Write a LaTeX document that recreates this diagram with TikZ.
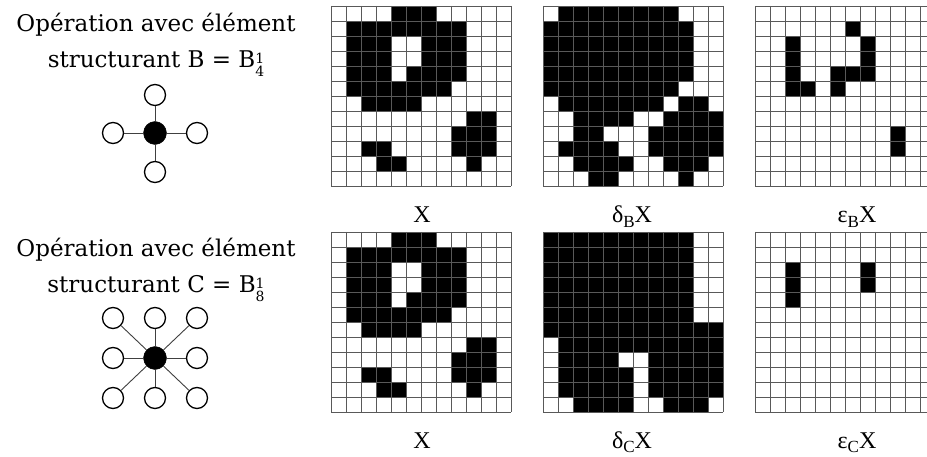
\documentclass[tikz,border=0pt]{standalone}
\usepackage{fontspec}
\setmainfont{DejaVu Serif}
\newfontfamily\lblfont{Liberation Serif}
\newcommand\supsub[2]{\makebox[0pt][l]{\raisebox{4pt}{\fontsize{14}{14}\selectfont #1}}\raisebox{-9pt}{\fontsize{14}{14}\selectfont #2}}
\newcommand\lsub[1]{\raisebox{-4.5pt}{\fontsize{17}{17}\selectfont #1}}
\newcommand\drawgrid[3]{%
  \foreach \r/\cols in {#3} {\foreach \c in \cols {\fill[cellfill] (#1+\c*15, #2+\r*15) rectangle ++(15,15);}}
  \foreach \i in {0,...,12} {%
    \draw[gridline] (#1+\i*15,#2) -- (#1+\i*15,#2+180);
    \draw[gridline] (#1,#2+\i*15) -- (#1+180,#2+\i*15);}%
}
\begin{document}
\begin{tikzpicture}[x=1pt,y=-1pt,
  cellfill/.style={fill=black},
  gridline/.style={draw=black!65, line width=0.8pt},
  elem/.style={circle, draw=black, line width=1.3pt, minimum size=21pt, inner sep=0pt, fill=white},
  elemc/.style={circle, draw=black, fill=black, minimum size=23pt, inner sep=0pt},
  link/.style={draw=black!75, line width=0.9pt},
  lbl/.style={font=\lblfont\fontsize{24}{24}\selectfont, anchor=base},
  titletext/.style={font=\fontsize{23}{23}\selectfont, anchor=base}]
\useasboundingbox (0,0) rectangle (927,457);
\fill[white] (0,0) rectangle (927,457);

% ---------- top row ----------
\node[titletext] (t1a) at (156,32) {Opération avec élément};
\node[titletext] (t1b) at (156,68) {structurant B = B\supsub{1}{4}};

\node[elemc] (b0) at (155,133) {};
\node[elem] (bn) at (155,95) {};
\node[elem] (bs) at (155,172) {};
\node[elem] (bw) at (113,133) {};
\node[elem] (be) at (197,133) {};
\foreach \n in {bn,bs,bw,be} {\draw[link] (b0) -- (\n);}

\drawgrid{331}{6}{0/{4,5,6},1/{1,2,3,4,5,6,7,8},2/{1,2,3,6,7,8},3/{1,2,3,6,7,8},4/{1,2,3,5,6,7,8},5/{1,2,3,4,5,6,7},6/{2,3,4,5},7/{9,10},8/{8,9,10},9/{2,3,8,9,10},10/{3,4,9}}
\drawgrid{543}{6}{0/{1,2,3,4,5,6,7,8},1/{0,1,2,3,4,5,6,7,8,9},2/{0,1,2,3,4,5,6,7,8,9},3/{0,1,2,3,4,5,6,7,8,9},4/{0,1,2,3,4,5,6,7,8,9},5/{0,1,2,3,4,5,6,7,8},6/{1,2,3,4,5,6,7,9,10},7/{2,3,4,5,8,9,10,11},8/{2,3,7,8,9,10,11},9/{1,2,3,4,7,8,9,10,11},10/{2,3,4,5,8,9,10},11/{3,4,9}}
\drawgrid{755}{6}{1/{6},2/{2,7},3/{2,7},4/{2,5,6,7},5/{2,3,5},8/{9},9/{9}}

\node[lbl] (l1) at (422,223) {X};
\node[lbl] (l2) at (632,223) {δ\lsub{B}X};
\node[lbl] (l3) at (857,223) {ε\lsub{B}X};

% ---------- bottom row ----------
\node[titletext] (t2a) at (156,257) {Opération avec élément};
\node[titletext] (t2b) at (156,293) {structurant C = B\supsub{1}{8}};

\node[elemc] (c0) at (155,358) {};
\node[elem] (cnw) at (113,318) {};
\node[elem] (cn) at (155,318) {};
\node[elem] (cne) at (197,318) {};
\node[elem] (cw) at (113,358) {};
\node[elem] (ce) at (197,358) {};
\node[elem] (csw) at (113,398) {};
\node[elem] (cs) at (155,398) {};
\node[elem] (cse) at (197,398) {};
\foreach \n in {cnw,cn,cne,cw,ce,csw,cs,cse} {\draw[link] (c0) -- (\n);}

\drawgrid{331}{232}{0/{4,5,6},1/{1,2,3,4,5,6,7,8},2/{1,2,3,6,7,8},3/{1,2,3,6,7,8},4/{1,2,3,5,6,7,8},5/{1,2,3,4,5,6,7},6/{2,3,4,5},7/{9,10},8/{8,9,10},9/{2,3,8,9,10},10/{3,4,9}}
\drawgrid{543}{232}{0/{0,1,2,3,4,5,6,7,8,9},1/{0,1,2,3,4,5,6,7,8,9},2/{0,1,2,3,4,5,6,7,8,9},3/{0,1,2,3,4,5,6,7,8,9},4/{0,1,2,3,4,5,6,7,8,9},5/{0,1,2,3,4,5,6,7,8,9},6/{0,1,2,3,4,5,6,7,8,9,10,11},7/{1,2,3,4,5,6,7,8,9,10,11},8/{1,2,3,4,7,8,9,10,11},9/{1,2,3,4,5,7,8,9,10,11},10/{1,2,3,4,5,7,8,9,10,11},11/{2,3,4,5,8,9,10}}
\drawgrid{755}{232}{2/{2,7},3/{2,7},4/{2}}

\node[lbl] (m1) at (422,448) {X};
\node[lbl] (m2) at (632,448) {δ\lsub{C}X};
\node[lbl] (m3) at (857,448) {ε\lsub{C}X};
\end{tikzpicture}
\end{document}
